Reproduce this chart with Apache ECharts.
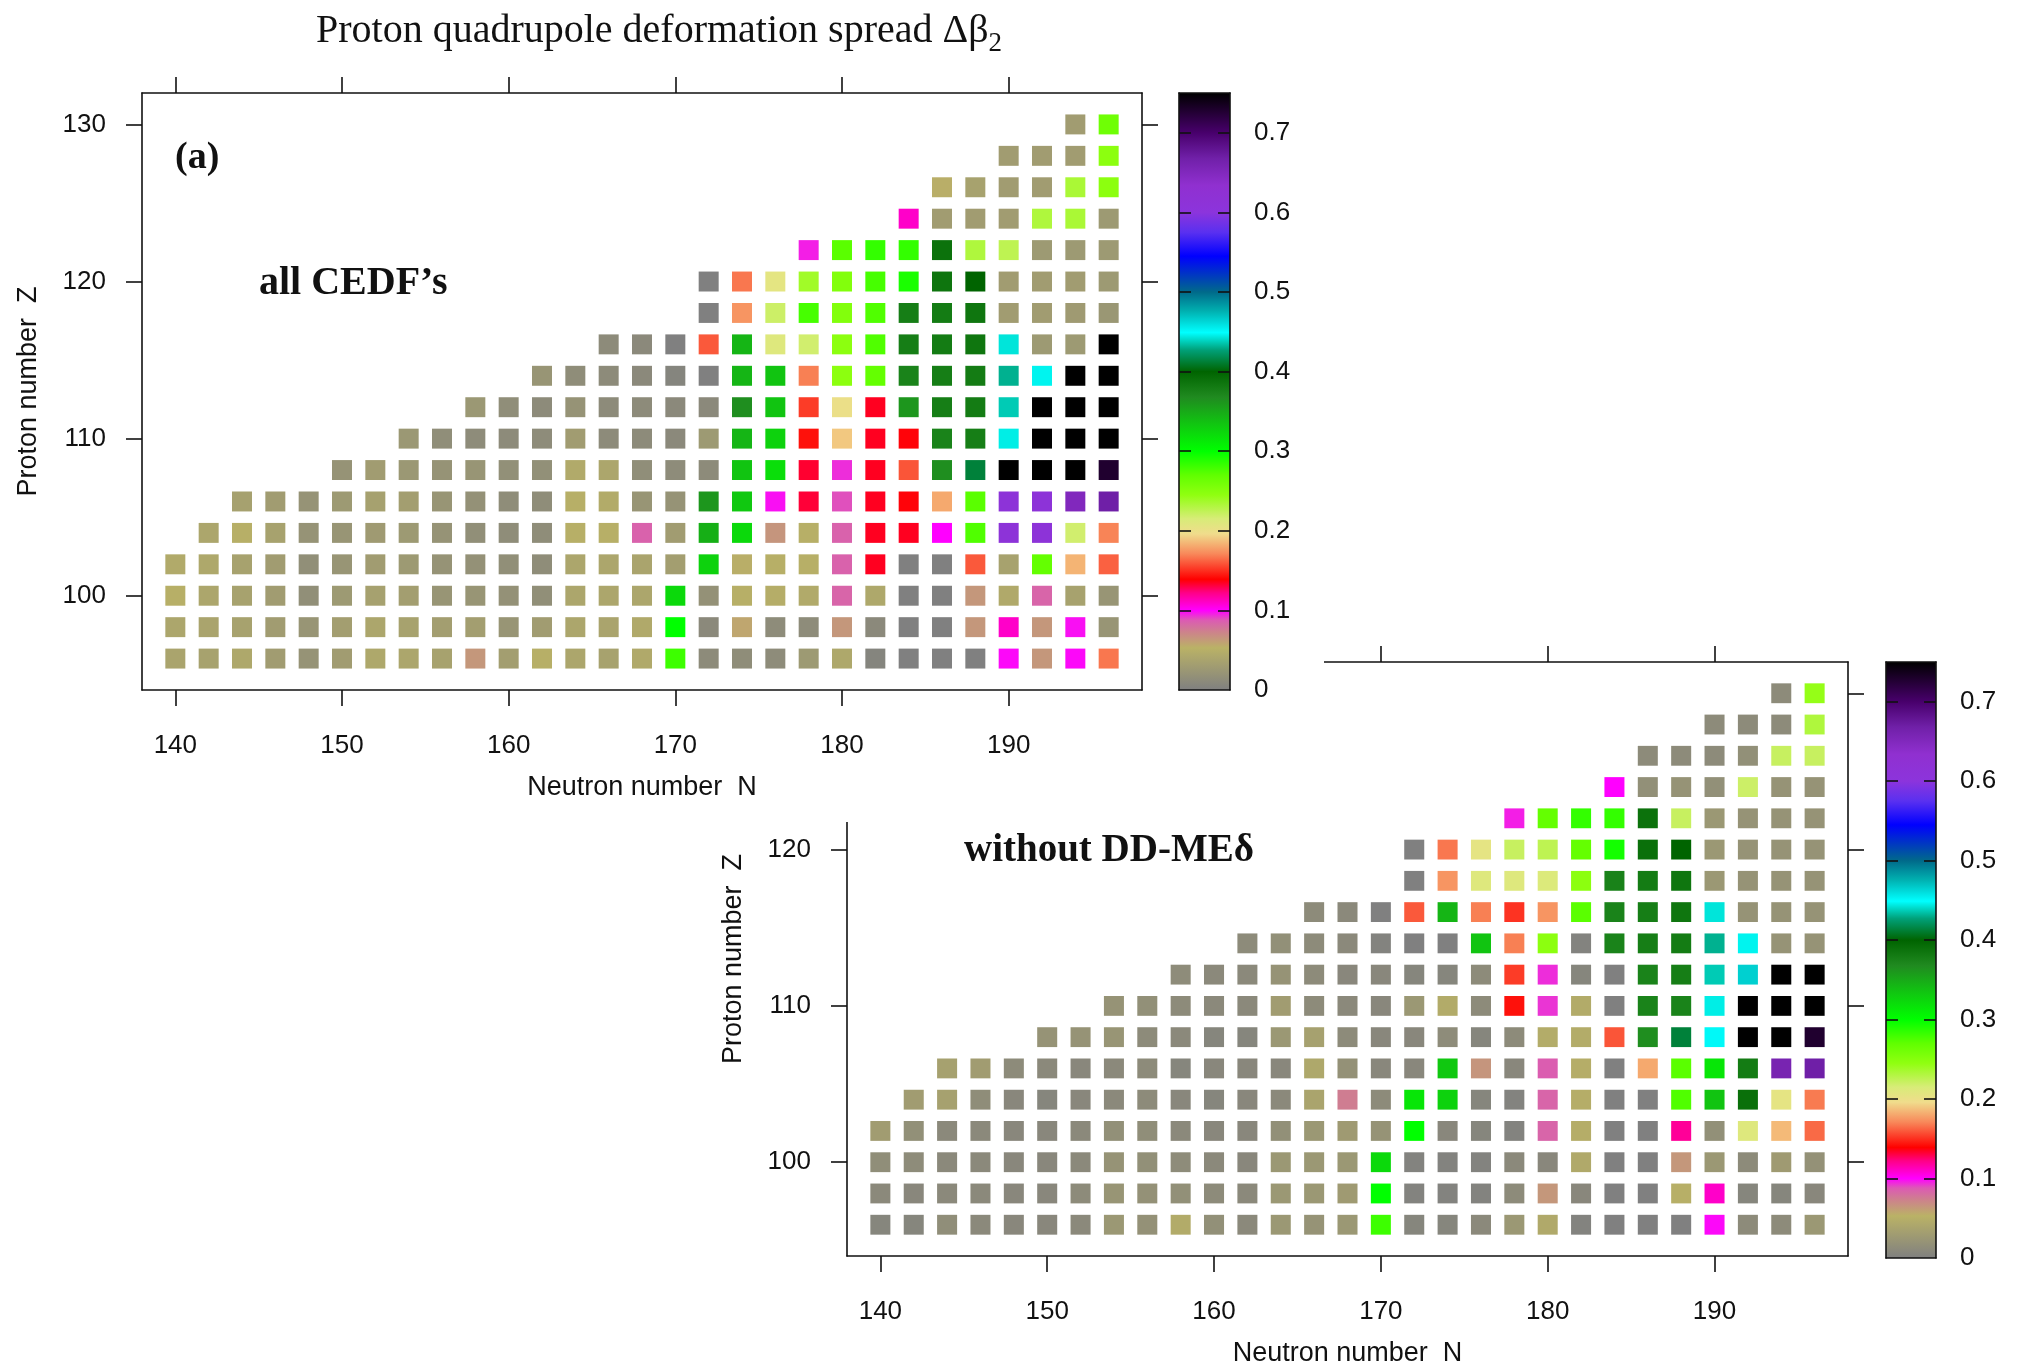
<!DOCTYPE html>
<html>
<head>
<meta charset="utf-8">
<script src="https://cdn.jsdelivr.net/npm/echarts@6/dist/echarts.min.js"></script>
<style>
  html, body { margin: 0; padding: 0; background: #ffffff; }
  #chart { width: 2019px; height: 1368px; }
</style>
</head>
<body>
<div id="chart"></div>
<script>
// Axis tick positions
const N_TICKS = [140, 150, 160, 170, 180, 190];
const Z_TICKS = [100, 110, 120, 130];
const BAR_TICKS = [0, 0.1, 0.2, 0.3, 0.4, 0.5, 0.6, 0.7];

// Proton number of each row (top to bottom) and the first neutron number in it;
// every row runs in steps of 2 up to N_LAST.
const Z_ROWS  = [130, 128, 126, 124, 122, 120, 118, 116, 114, 112, 110, 108, 106, 104, 102, 100, 98, 96];
const N_FIRST = [194, 190, 186, 184, 178, 172, 172, 166, 162, 158, 154, 150, 144, 142, 140, 140, 140, 140];
const N_LAST = 196;

// Delta beta_2 spread, all CEDFs
const SPREAD_ALL = [
  [0.030, 0.262],
  [0.030, 0.030, 0.030, 0.247],
  [0.052, 0.036, 0.030, 0.030, 0.234, 0.247],
  [0.110, 0.030, 0.030, 0.030, 0.232, 0.234, 0.027],
  [0.096, 0.272, 0.284, 0.284, 0.388, 0.232, 0.226, 0.027, 0.027, 0.027],
  [0.000, 0.167, 0.206, 0.238, 0.252, 0.278, 0.292, 0.386, 0.400, 0.030, 0.030, 0.030, 0.027],
  [0.000, 0.175, 0.220, 0.278, 0.252, 0.275, 0.378, 0.380, 0.385, 0.030, 0.030, 0.028, 0.024],
  [0.012, 0.010, 0.000, 0.160, 0.344, 0.210, 0.218, 0.247, 0.275, 0.378, 0.380, 0.385, 0.443, 0.027, 0.027, 0.750],
  [0.022, 0.014, 0.012, 0.010, 0.005, 0.000, 0.344, 0.335, 0.169, 0.247, 0.268, 0.374, 0.378, 0.380, 0.431, 0.447, 0.750, 0.750],
  [0.025, 0.015, 0.012, 0.020, 0.012, 0.012, 0.010, 0.010, 0.366, 0.335, 0.153, 0.200, 0.135, 0.361, 0.378, 0.380, 0.437, 0.750, 0.750, 0.750],
  [0.025, 0.015, 0.013, 0.012, 0.013, 0.030, 0.012, 0.012, 0.010, 0.027, 0.344, 0.327, 0.143, 0.190, 0.135, 0.139, 0.374, 0.378, 0.445, 0.750, 0.750, 0.750],
  [0.020, 0.030, 0.025, 0.020, 0.022, 0.017, 0.017, 0.045, 0.040, 0.015, 0.013, 0.012, 0.335, 0.320, 0.133, 0.094, 0.135, 0.159, 0.366, 0.413, 0.750, 0.750, 0.750, 0.728],
  [0.035, 0.030, 0.020, 0.027, 0.035, 0.032, 0.022, 0.018, 0.014, 0.014, 0.050, 0.046, 0.022, 0.020, 0.361, 0.333, 0.098, 0.132, 0.089, 0.135, 0.139, 0.181, 0.272, 0.610, 0.610, 0.650, 0.668],
  [0.040, 0.050, 0.036, 0.020, 0.022, 0.028, 0.027, 0.020, 0.016, 0.014, 0.014, 0.050, 0.050, 0.085, 0.030, 0.347, 0.323, 0.065, 0.050, 0.085, 0.135, 0.135, 0.100, 0.275, 0.610, 0.610, 0.218, 0.170],
  [0.045, 0.042, 0.036, 0.030, 0.016, 0.022, 0.030, 0.027, 0.020, 0.018, 0.016, 0.014, 0.040, 0.040, 0.038, 0.032, 0.327, 0.052, 0.050, 0.050, 0.085, 0.135, 0.000, 0.000, 0.160, 0.036, 0.268, 0.184, 0.162],
  [0.050, 0.040, 0.036, 0.030, 0.016, 0.027, 0.035, 0.032, 0.022, 0.022, 0.018, 0.016, 0.040, 0.040, 0.040, 0.323, 0.018, 0.050, 0.048, 0.045, 0.084, 0.042, 0.000, 0.000, 0.064, 0.044, 0.084, 0.036, 0.022],
  [0.040, 0.038, 0.036, 0.030, 0.022, 0.032, 0.040, 0.036, 0.032, 0.032, 0.022, 0.030, 0.040, 0.038, 0.044, 0.300, 0.010, 0.058, 0.013, 0.013, 0.064, 0.010, 0.000, 0.000, 0.064, 0.110, 0.064, 0.098, 0.022],
  [0.038, 0.036, 0.042, 0.030, 0.020, 0.030, 0.042, 0.040, 0.036, 0.064, 0.032, 0.050, 0.040, 0.036, 0.044, 0.281, 0.012, 0.014, 0.013, 0.027, 0.042, 0.005, 0.000, 0.000, 0.000, 0.099, 0.064, 0.099, 0.167]
];

// Delta beta_2 spread, DD-MEdelta left out
const SPREAD_NO_DDME = [
  [0.012, 0.243],
  [0.012, 0.012, 0.012, 0.232],
  [0.012, 0.012, 0.012, 0.017, 0.222, 0.222],
  [0.100, 0.017, 0.020, 0.017, 0.220, 0.020, 0.020],
  [0.096, 0.268, 0.284, 0.284, 0.388, 0.222, 0.025, 0.020, 0.020, 0.020],
  [0.000, 0.167, 0.205, 0.222, 0.226, 0.268, 0.294, 0.390, 0.400, 0.025, 0.020, 0.020, 0.020],
  [0.000, 0.175, 0.210, 0.210, 0.212, 0.247, 0.375, 0.380, 0.385, 0.025, 0.020, 0.020, 0.020],
  [0.012, 0.010, 0.000, 0.160, 0.344, 0.169, 0.151, 0.175, 0.272, 0.374, 0.378, 0.385, 0.443, 0.020, 0.020, 0.020],
  [0.012, 0.017, 0.012, 0.010, 0.003, 0.000, 0.000, 0.335, 0.169, 0.247, 0.003, 0.374, 0.378, 0.380, 0.431, 0.447, 0.020, 0.020],
  [0.013, 0.010, 0.010, 0.020, 0.012, 0.008, 0.008, 0.006, 0.006, 0.012, 0.153, 0.094, 0.006, 0.000, 0.374, 0.378, 0.437, 0.465, 0.750, 0.750],
  [0.020, 0.017, 0.012, 0.010, 0.010, 0.030, 0.012, 0.010, 0.008, 0.025, 0.046, 0.012, 0.143, 0.093, 0.046, 0.000, 0.374, 0.374, 0.445, 0.750, 0.750, 0.750],
  [0.020, 0.020, 0.022, 0.012, 0.010, 0.006, 0.006, 0.025, 0.035, 0.012, 0.008, 0.008, 0.013, 0.006, 0.012, 0.047, 0.047, 0.159, 0.366, 0.413, 0.449, 0.750, 0.750, 0.728],
  [0.035, 0.030, 0.012, 0.010, 0.008, 0.010, 0.012, 0.006, 0.008, 0.008, 0.008, 0.042, 0.018, 0.008, 0.008, 0.333, 0.065, 0.008, 0.086, 0.048, 0.000, 0.181, 0.272, 0.315, 0.380, 0.660, 0.668],
  [0.030, 0.035, 0.014, 0.008, 0.006, 0.008, 0.010, 0.012, 0.008, 0.006, 0.008, 0.010, 0.038, 0.075, 0.012, 0.315, 0.327, 0.006, 0.003, 0.084, 0.048, 0.000, 0.000, 0.275, 0.335, 0.390, 0.205, 0.168],
  [0.030, 0.017, 0.010, 0.010, 0.008, 0.008, 0.010, 0.017, 0.015, 0.010, 0.008, 0.008, 0.017, 0.025, 0.028, 0.020, 0.300, 0.008, 0.006, 0.003, 0.084, 0.048, 0.000, 0.000, 0.119, 0.017, 0.210, 0.186, 0.164],
  [0.015, 0.013, 0.010, 0.010, 0.008, 0.008, 0.010, 0.020, 0.017, 0.013, 0.010, 0.008, 0.025, 0.025, 0.025, 0.323, 0.003, 0.003, 0.003, 0.010, 0.008, 0.044, 0.000, 0.000, 0.064, 0.025, 0.012, 0.028, 0.018],
  [0.010, 0.008, 0.010, 0.010, 0.008, 0.008, 0.012, 0.022, 0.018, 0.017, 0.012, 0.010, 0.025, 0.025, 0.028, 0.300, 0.003, 0.003, 0.003, 0.012, 0.064, 0.008, 0.000, 0.000, 0.050, 0.110, 0.006, 0.006, 0.008],
  [0.006, 0.006, 0.015, 0.010, 0.008, 0.008, 0.010, 0.025, 0.018, 0.046, 0.017, 0.010, 0.025, 0.020, 0.025, 0.281, 0.006, 0.006, 0.010, 0.025, 0.044, 0.003, 0.000, 0.000, 0.000, 0.099, 0.012, 0.012, 0.025]
];

// Colour palette (value, colour)
const BAR_MAX = 0.75;
const PALETTE_STOPS = [
  [0.000, '#808080'], [0.053, '#bab266'], [0.073, '#cd828c'], [0.088, '#dc5ab4'],
  [0.100, '#ff00ff'], [0.122, '#ff0088'], [0.139, '#ff0000'], [0.171, '#f8885a'],
  [0.196, '#f0dc8c'], [0.215, '#d8ec78'], [0.245, '#90ff10'], [0.270, '#60ff00'],
  [0.300, '#00ff00'], [0.333, '#10c810'], [0.368, '#208a20'], [0.400, '#006400'],
  [0.427, '#00a078'], [0.449, '#00ffff'], [0.476, '#00b0b0'], [0.500, '#006a8a'],
  [0.545, '#0000ff'], [0.575, '#5a30f0'], [0.600, '#8c34dc'], [0.634, '#9030d0'],
  [0.668, '#7020a8'], [0.700, '#48006c'], [0.750, '#000000']
];

function hexToRgb(h) {
  const n = parseInt(h.slice(1), 16);
  return [(n >> 16) & 255, (n >> 8) & 255, n & 255];
}
function paletteAt(v) {
  for (let i = 1; i < PALETTE_STOPS.length; i++) {
    const [v1, c1] = PALETTE_STOPS[i];
    if (v <= v1 || i === PALETTE_STOPS.length - 1) {
      const [v0, c0] = PALETTE_STOPS[i - 1];
      const t = Math.max(0, Math.min(1, (v - v0) / (v1 - v0)));
      const a = hexToRgb(c0), b = hexToRgb(c1);
      const m = a.map((x, k) => Math.round(x + (b[k] - x) * t));
      return 'rgb(' + m.join(',') + ')';
    }
  }
}
const PALETTE_SAMPLES = [];
for (let i = 0; i <= 150; i++) PALETTE_SAMPLES.push(paletteAt(BAR_MAX * i / 150));

function buildCells(rows) {
  const out = [];
  rows.forEach((row, i) => {
    row.forEach((v, j) => {
      const n = N_FIRST[i] + 2 * j;
      if (n <= N_LAST) out.push([n, Z_ROWS[i], v]);
    });
  });
  return out;
}

const FONT_SANS = '"Liberation Sans", Arial, sans-serif';
const FONT_SERIF = '"Liberation Serif", "Times New Roman", serif';
const INK = '#111111';
const LINE = { color: INK, width: 1.6 };

// Outer frame of a map panel: bottom/left carry labels, top/right carry ticks only
function panelAxes(grid, z) {
  const common = { type: 'value', gridIndex: grid, z: z, splitLine: { show: false },
    axisLine: { show: true, onZero: false, lineStyle: LINE } };
  const xBottom = Object.assign({}, common, {
    position: 'bottom', min: 138, max: 198,
    axisTick: { show: true, inside: false, length: 16, lineStyle: LINE, customValues: N_TICKS },
    axisLabel: { show: true, customValues: N_TICKS, margin: 43, fontSize: 26, fontFamily: FONT_SANS, color: INK },
    name: 'Neutron number  N', nameLocation: 'middle', nameGap: 84,
    nameTextStyle: { fontSize: 27, fontFamily: FONT_SANS, color: INK }
  });
  const xTop = Object.assign({}, common, {
    position: 'top', min: 138, max: 198,
    axisTick: { show: true, inside: false, length: 16, lineStyle: LINE, customValues: N_TICKS },
    axisLabel: { show: false }
  });
  const yLeft = Object.assign({}, common, {
    position: 'left', min: 94, max: 132,
    axisTick: { show: true, inside: false, length: 16, lineStyle: LINE, customValues: Z_TICKS },
    axisLabel: { show: true, customValues: Z_TICKS, margin: 36, fontSize: 26, fontFamily: FONT_SANS, color: INK },
    name: 'Proton number  Z', nameLocation: 'middle', nameRotate: 90, nameGap: 100,
    nameTextStyle: { fontSize: 27, fontFamily: FONT_SANS, color: INK }
  });
  const yRight = Object.assign({}, common, {
    position: 'right', min: 94, max: 132,
    axisTick: { show: true, inside: false, length: 16, lineStyle: LINE, customValues: Z_TICKS },
    axisLabel: { show: false }
  });
  return { x: [xBottom, xTop], y: [yLeft, yRight] };
}

// Frame and value scale of a colour bar (drawn above its gradient)
function barAxes(grid, z) {
  const common = { type: 'value', gridIndex: grid, z: z, splitLine: { show: false },
    axisLine: { show: true, onZero: false, lineStyle: LINE } };
  const inner = BAR_TICKS.slice(1);
  return {
    x: [
      Object.assign({}, common, { position: 'bottom', min: 0, max: 1, axisTick: { show: false }, axisLabel: { show: false } }),
      Object.assign({}, common, { position: 'top', min: 0, max: 1, axisTick: { show: false }, axisLabel: { show: false } })
    ],
    y: [
      Object.assign({}, common, { position: 'left', min: 0, max: BAR_MAX,
        axisTick: { show: true, inside: true, length: 12, lineStyle: LINE, customValues: inner },
        axisLabel: { show: false } }),
      Object.assign({}, common, { position: 'right', min: 0, max: BAR_MAX,
        axisTick: { show: true, inside: true, length: 12, lineStyle: LINE, customValues: inner },
        axisLabel: { show: true, customValues: BAR_TICKS, margin: 24, fontSize: 26, fontFamily: FONT_SANS, color: INK,
          formatter: v => String(Math.round(v * 10) / 10) } })
    ]
  };
}

const axA = panelAxes(0, 60), barA = barAxes(1, 65);
const axB = panelAxes(2, 0),  barB = barAxes(3, 5);

function cellSeries(xi, yi, data, z) {
  return {
    type: 'custom', xAxisIndex: xi, yAxisIndex: yi, z: z,
    encode: { x: 0, y: 1 },
    data: data,
    renderItem: function (params, api) {
      const c = api.coord([api.value(0), api.value(1)]);
      const s = api.size([1.2, 1.27]);
      return { type: 'rect',
        shape: { x: c[0] - s[0] / 2, y: c[1] - s[1] / 2, width: s[0], height: s[1] },
        style: { fill: api.visual('color') } };
    }
  };
}

function gradientSeries(xi, yi, z) {
  const stops = PALETTE_STOPS.map(([v, c]) => ({ offset: v / BAR_MAX, color: c }));
  return {
    type: 'custom', xAxisIndex: xi, yAxisIndex: yi, z: z,
    data: [[0, 0]],
    renderItem: function (params, api) {
      const p0 = api.coord([0, BAR_MAX]);
      const p1 = api.coord([1, 0]);
      return { type: 'rect',
        shape: { x: p0[0], y: p0[1], width: p1[0] - p0[0], height: p1[1] - p0[1] },
        style: { fill: new echarts.graphic.LinearGradient(0, 1, 0, 0, stops) } };
    }
  };
}

const chart = echarts.init(document.getElementById('chart'), null, { renderer: 'canvas' });

chart.setOption({
  backgroundColor: '#ffffff',
  animation: false,
  title: {
    text: 'Proton quadrupole deformation spread Δβ{sub|2}',
    left: 654, top: 0, textAlign: 'center', z: 70,
    textStyle: { fontFamily: FONT_SERIF, fontSize: 40, fontWeight: 'normal', color: INK, lineHeight: 52,
      rich: { sub: { fontFamily: FONT_SERIF, fontSize: 27, lineHeight: 27, verticalAlign: 'bottom', color: INK } } }
  },
  grid: [
    { left: 142, top: 93, width: 1000, height: 597 },
    { left: 1179, top: 93, width: 51, height: 597 },
    { left: 847, top: 662, width: 1001, height: 596 },
    { left: 1886, top: 662, width: 50, height: 596 }
  ],
  xAxis: [...axA.x, ...barA.x, ...axB.x, ...barB.x],
  yAxis: [...axA.y, ...barA.y, ...axB.y, ...barB.y],
  visualMap: [
    { type: 'continuous', show: false, seriesIndex: 0, dimension: 2, min: 0, max: BAR_MAX, inRange: { color: PALETTE_SAMPLES } },
    { type: 'continuous', show: false, seriesIndex: 1, dimension: 2, min: 0, max: BAR_MAX, inRange: { color: PALETTE_SAMPLES } }
  ],
  series: [
    cellSeries(0, 0, buildCells(SPREAD_ALL), 60),
    cellSeries(4, 4, buildCells(SPREAD_NO_DDME), 2),
    gradientSeries(2, 2, 60),
    gradientSeries(6, 6, 2)
  ],
  graphic: [
    // white backing of the upper panel, laid over the lower one
    { type: 'rect', z: 50, shape: { x: 0, y: 0, width: 1324, height: 822 }, style: { fill: '#ffffff' } },
    { type: 'text', z: 70, x: 175, y: 158,
      style: { text: '(a)', fill: INK, font: 'bold 38px "Liberation Serif"', textAlign: 'left', textVerticalAlign: 'middle' } },
    { type: 'text', z: 70, x: 259, y: 284,
      style: { text: 'all CEDF’s', fill: INK, font: 'bold 40px "Liberation Serif"', textAlign: 'left', textVerticalAlign: 'middle' } },
    { type: 'text', z: 70, x: 964, y: 851,
      style: { text: 'without DD-MEδ', fill: INK, font: 'bold 39px "Liberation Serif"', textAlign: 'left', textVerticalAlign: 'middle' } }
  ]
});
</script>
</body>
</html>
